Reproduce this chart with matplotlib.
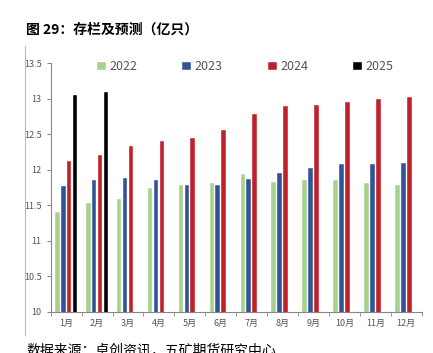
import numpy as np
import matplotlib.pyplot as plt
from matplotlib.lines import Line2D

plt.rcParams['font.family'] = ['Noto Sans CJK SC', 'DejaVu Sans']

months = ['1月', '2月', '3月', '4月', '5月', '6月', '7月', '8月', '9月', '10月', '11月', '12月']
v2022 = [11.41, 11.53, 11.59, 11.74, 11.79, 11.81, 11.94, 11.82, 11.85, 11.86, 11.81, 11.79]
v2023 = [11.77, 11.86, 11.88, 11.86, 11.79, 11.79, 11.87, 11.96, 12.03, 12.08, 12.08, 12.10]
v2024 = [12.12, 12.20, 12.34, 12.41, 12.45, 12.56, 12.78, 12.89, 12.91, 12.96, 12.99, 13.02]
v2025 = [13.05, 13.10] + [np.nan] * 10
years = ['2022', '2023', '2024', '2025']
colors = ['#A9D18E', '#2F5597', '#C0202A', '#000000']

fig = plt.figure(figsize=(4.33, 3.53), dpi=100)
ax = fig.add_axes([0.117, 0.117, 0.857, 0.704])

x = np.arange(len(months))
step = 0.19
w = 0.15
for i, (vals, c, lab) in enumerate(zip([v2022, v2023, v2024, v2025], colors, years)):
    ax.bar(x + (i - 1.5) * step, vals, width=w, color=c, label=lab, edgecolor='white', linewidth=0.3)

ax.set_ylim(10, 13.5)
ax.set_xlim(-0.5, len(months) - 0.5)
ax.set_yticks(np.arange(10, 13.51, 0.5))
ax.set_yticklabels(['%g' % t for t in np.arange(10, 13.51, 0.5)])
ax.set_xticks(x)
ax.set_xticklabels(months)
ax.set_xticks(np.arange(-0.5, len(months), 1), minor=True)
ax.tick_params(axis='x', which='major', length=0, labelsize=6.5, labelcolor='#555555', pad=5)
ax.tick_params(axis='x', which='minor', length=3, color='#888888', direction='out')
ax.tick_params(axis='y', length=3, color='#888888', labelsize=6.5, labelcolor='#555555')

for s in ['top', 'right']:
    ax.spines[s].set_visible(False)
ax.spines['left'].set_color('#888888')
ax.spines['bottom'].set_color('#888888')

ax.legend(ncol=4, loc='center', bbox_to_anchor=(0.525, 0.985), frameon=False,
          fontsize=9, handlelength=0.7, handleheight=0.7, columnspacing=3.6,
          handletextpad=0.3, labelcolor='#555555')

fig.text(0.06, 0.915, '图 29：存栏及预测（亿只）', fontsize=10, fontweight='bold', va='center')
fig.add_artist(Line2D([0.058, 0.058], [0.05, 0.87], color='#BBBBBB', linewidth=0.8))
fig.text(0.06, 0.028, '数据来源：卓创资讯，五矿期货研究中心', fontsize=10, va='top')

fig.savefig('out.png', dpi=100)
